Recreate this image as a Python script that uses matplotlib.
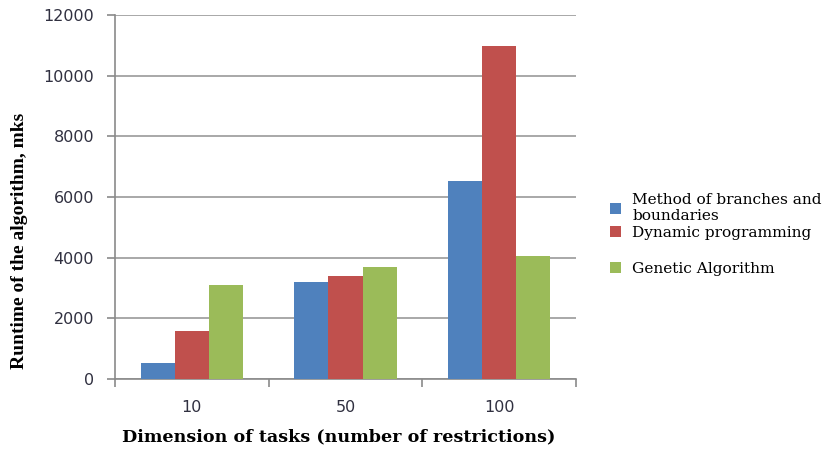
import matplotlib.pyplot as plt, numpy as np

# dados
categorias = ['10', '50', '100']
metodo_ramos = [520, 3200, 6530]
prog_dinamica = [1580, 3400, 10980]
algoritmo_gen = [3100, 3700, 4060]
nomes = ['Method of branches and\nboundaries', 'Dynamic programming', 'Genetic Algorithm']
cores = ['#4F81BD', '#C0504D', '#9BBB59']

fig = plt.figure(figsize=(8.3, 4.5), dpi=100)
ax = fig.add_axes([0.1386, 0.158, 0.5554, 0.809])

x = np.arange(len(categorias))
w = 1 / 4.5  # gap width 150%
for i, (vals, nome, cor) in enumerate(zip([metodo_ramos, prog_dinamica, algoritmo_gen], nomes, cores)):
    ax.bar(x + (i - 1) * w, vals, w, color=cor, label=nome, zorder=3)

ax.set_xlim(-0.5, 2.5)
ax.set_ylim(0, 12000)
ax.set_yticks(np.arange(0, 12001, 2000))
ax.yaxis.grid(True, color='#9a9a9a', linewidth=1.2, zorder=0)

ax.set_xticks(x)
ax.set_xticks(np.arange(-0.5, 2.6, 1), minor=True)
ax.tick_params(axis='x', which='major', length=0, pad=15)
ax.tick_params(axis='x', which='minor', length=6, color='#8a8a8a', width=1.2)
ax.tick_params(axis='y', length=6, color='#8a8a8a', width=1.2, pad=9)
ax.set_xticklabels(categorias)
for lab in ax.get_xticklabels() + ax.get_yticklabels():
    lab.set_fontsize(11.5)
    lab.set_color('#303040')
    lab.set_family('DejaVu Sans')

for s in ['top', 'right']:
    ax.spines[s].set_visible(False)
for s in ['left', 'bottom']:
    ax.spines[s].set_color('#8a8a8a')
    ax.spines[s].set_linewidth(1.2)

ax.set_xlabel('Dimension of tasks (number of restrictions)', fontsize=12.6, fontweight='bold',
              family='DejaVu Serif')
ax.xaxis.set_label_coords(0.486, -0.135)
ax.set_ylabel('Runtime of the algorithm, mks', fontsize=14, fontweight='bold',
              family='Liberation Serif')
ax.yaxis.set_label_coords(-0.189, 0.38)

# legenda em duas partes (espaco maior antes do ultimo item)
h, l = ax.get_legend_handles_labels()
kw = dict(loc='upper left', frameon=False, prop={'family': 'DejaVu Serif', 'size': 11.1},
          handlelength=0.7, handleheight=0.7, handletextpad=0.75, labelspacing=0.15,
          borderaxespad=0, borderpad=0)
leg1 = fig.legend(h[:2], l[:2], bbox_to_anchor=(0.735, 0.571), **kw)
leg2 = fig.legend(h[2:], l[2:], bbox_to_anchor=(0.735, 0.418), **kw)

fig.savefig('out.png', dpi=100)
